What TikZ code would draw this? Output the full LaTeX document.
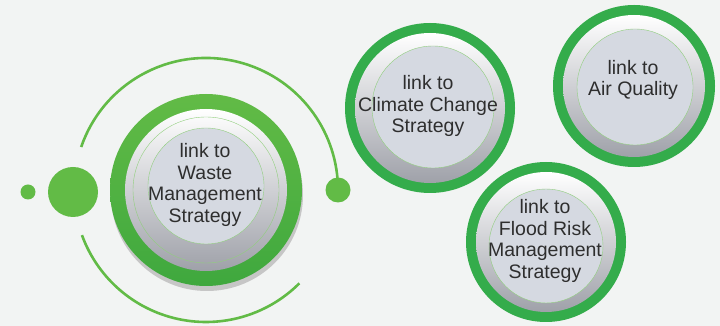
\documentclass[tikz,border=0pt]{standalone}
\usepackage{fontspec}
\setmainfont{Liberation Sans}
\definecolor{bgpaper}{HTML}{F2F4F3}
\definecolor{leafgreen}{HTML}{62BB46}
\definecolor{leafdark}{HTML}{3FA83E}
\definecolor{deepgreen}{HTML}{34AC4B}
\definecolor{silverlo}{HTML}{9FA1A9}
\definecolor{discface}{HTML}{D5D9E1}
\definecolor{inktext}{HTML}{2E2E2E}
\tikzset{
  ring/.style={circle, inner sep=0pt, minimum size=#1, fill=deepgreen},
  silver/.style={circle, inner sep=0pt, minimum size=#1, top color=white, bottom color=silverlo},
  face/.style={circle, inner sep=0pt, minimum size=#1, fill=discface, draw=leafgreen!70, line width=0.4pt},
  blurb/.style={text=inktext, align=center, font=\fontsize{19.5}{21.7}\selectfont},
  greendot/.style={circle, inner sep=0pt, minimum size=#1, fill=leafgreen},
  orbit/.style={leafgreen, line width=2.6pt},
}
\begin{document}
\begin{tikzpicture}[x=1pt,y=1pt]
  \useasboundingbox (0,0) rectangle (720,326);
  \fill[bgpaper] (0,0) rectangle (720,326);

  % waste, the big one with the orbit
  \coordinate (hub) at (206,136);
  \fill[gray!45] (207,131) circle (96);
  \node[ring=192pt, fill=none, top color=leafgreen, bottom color=leafdark] (wasteRing) at (hub) {};
  \node[silver=162pt] (wasteSilver) at (hub) {};
  \draw[leafgreen!70, line width=0.4pt] (hub) circle (73);
  \node[face=116pt] (wasteFace) at (206,140) {};
  \node[blurb] (wasteText) at (205,141) {link to\\Waste\\Management\\Strategy};

  \draw[orbit] ([shift={(161:132)}]hub) arc[start angle=161, end angle=0, radius=132] coordinate (orbitEnd);
  \draw[orbit] ([shift={(200:132)}]hub) arc[start angle=200, end angle=315, radius=132];
  \node[greendot=25pt] (endDot) at (orbitEnd) {};
  \node[greendot=50pt] (bigDot) at (73,134) {};
  \node[greendot=15pt] (tinyDot) at (28,134) {};

  % climate change
  \node[ring=170pt] (climateRing) at (430,218) {};
  \node[silver=150pt] (climateSilver) at (430,218) {};
  \node[face=122pt] (climateFace) at (433,219) {};
  \node[blurb] (climateText) at (428,220) {link to\\Climate Change\\Strategy};

  % air quality
  \node[ring=162pt] (airRing) at (634,240) {};
  \node[silver=142pt] (airSilver) at (634,240) {};
  \node[face=116pt] (airFace) at (635,239) {};
  \node[blurb] (airText) at (633,246) {link to\\Air Quality};

  % flood risk
  \node[ring=160pt] (floodRing) at (546,84) {};
  \node[silver=140pt] (floodSilver) at (546,84) {};
  \node[face=114pt] (floodFace) at (546,80) {};
  \node[blurb] (floodText) at (545,85) {link to\\Flood Risk\\Management\\Strategy};
\end{tikzpicture}
\end{document}
